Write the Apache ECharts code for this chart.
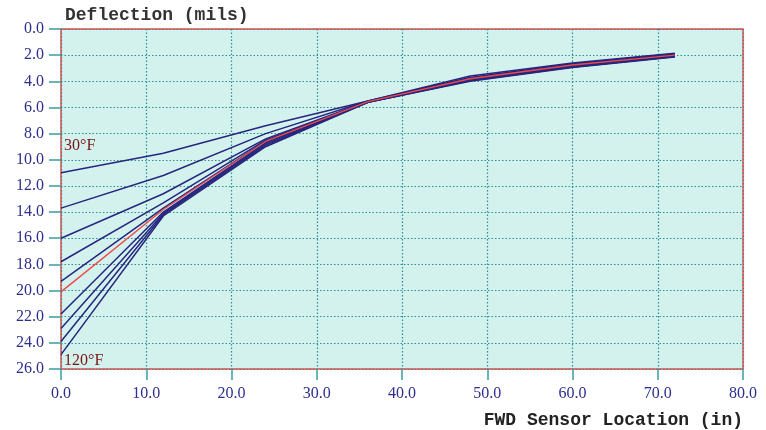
<!DOCTYPE html>
<html>
<head>
<meta charset="utf-8">
<script src="https://cdn.jsdelivr.net/npm/echarts@6/dist/echarts.min.js"></script>
<style>
  html, body { margin: 0; padding: 0; background: #fff; }
  #chart { width: 766px; height: 430px; }
</style>
</head>
<body>
<div id="chart"></div>
<script>
// sensor offsets (in)
const sensors = [0, 12, 24, 36, 48, 60, 72]

// deflection basins, 30F (top) to 120F (bottom)
const basins = [
  [11.0, 9.5, 7.4, 5.5, 3.6, 2.6, 1.85],
  [13.7, 11.2, 8.0, 5.5, 3.7, 2.65, 1.9],
  [16.0, 12.6, 8.4, 5.55, 3.75, 2.7, 1.95],
  [17.8, 13.3, 8.5, 5.55, 3.8, 2.75, 2.0],
  [19.3, 13.7, 8.6, 5.55, 3.85, 2.8, 2.0],
  [21.8, 14.0, 8.7, 5.6, 3.9, 2.85, 2.05],
  [22.9, 14.1, 8.8, 5.6, 3.9, 2.9, 2.1],
  [23.9, 14.2, 8.9, 5.6, 3.95, 2.9, 2.1],
  [24.9, 14.3, 9.0, 5.6, 4.0, 2.95, 2.15]
]

// measured basin (red)
const measured = [20.1, 13.8, 8.6, 5.55, 3.8, 2.75, 2.0]

const tempLabels = ['30°F', '120°F']
const tempLabelAt = [8.9, 25.4]

const chart = echarts.init(document.getElementById('chart'))

const navy = '#26267e'
const teal = '#2a9090'
const tickColor = '#3a9e9e'
const labelColor = '#2e2e8e'

const series = basins.map((b, i) => {
  const s = {
    type: 'line',
    data: sensors.map((x, j) => [x, b[j]]),
    symbol: 'none',
    lineStyle: { color: navy, width: 1.5 },
    silent: true,
    z: 3
  }
  if (i === 0 || i === basins.length - 1) {
    const k = i === 0 ? 0 : 1
    s.markPoint = {
      symbol: 'circle',
      symbolSize: 0,
      silent: true,
      data: [{ coord: [0, tempLabelAt[k]] }],
      label: {
        show: true,
        position: 'right',
        distance: 3,
        formatter: tempLabels[k],
        color: '#7a1414',
        fontFamily: 'Liberation Serif',
        fontSize: 16
      }
    }
  }
  return s
})

series.push({
  type: 'line',
  data: sensors.map((x, j) => [x, measured[j]]),
  symbol: 'none',
  lineStyle: { color: '#f04848', width: 1.4 },
  silent: true,
  z: 4
})

chart.setOption({
  animation: false,
  title: {
    text: 'Deflection (mils)',
    left: 60,
    top: 1,
    textStyle: {
      fontFamily: 'Liberation Mono',
      fontWeight: 'bold',
      fontSize: 18,
      color: '#333333'
    }
  },
  grid: {
    left: 61,
    right: 23,
    top: 29,
    bottom: 61,
    show: true,
    backgroundColor: '#d3f2ee',
    borderColor: '#ee4444',
    borderWidth: 1.5
  },
  xAxis: {
    type: 'value',
    position: 'bottom',
    min: 0,
    max: 80,
    interval: 10,
    name: 'FWD Sensor Location (in)',
    nameLocation: 'end',
    nameGap: 0,
    nameTextStyle: {
      fontFamily: 'Liberation Mono',
      fontWeight: 'bold',
      fontSize: 18,
      color: '#222222',
      align: 'right',
      verticalAlign: 'top',
      padding: [42, 0, 0, 0]
    },
    axisLine: { show: false, onZero: false },
    axisTick: { show: true, length: 11, lineStyle: { color: tickColor, width: 1.5 } },
    axisLabel: {
      margin: 17,
      color: labelColor,
      fontFamily: 'Liberation Serif',
      fontSize: 16,
      formatter: v => v.toFixed(1)
    },
    splitLine: { show: true, lineStyle: { color: teal, type: [1.5, 2], width: 1.2 } }
  },
  yAxis: {
    type: 'value',
    inverse: true,
    min: 0,
    max: 26,
    interval: 2,
    axisLine: { show: false, onZero: false },
    axisTick: { show: true, length: 12, lineStyle: { color: tickColor, width: 1.5 } },
    axisLabel: {
      margin: 17,
      color: labelColor,
      fontFamily: 'Liberation Serif',
      fontSize: 16,
      formatter: v => v.toFixed(1)
    },
    splitLine: { show: true, lineStyle: { color: teal, type: [1.5, 2], width: 1.2 } }
  },
  series: series
})
</script>
</body>
</html>
